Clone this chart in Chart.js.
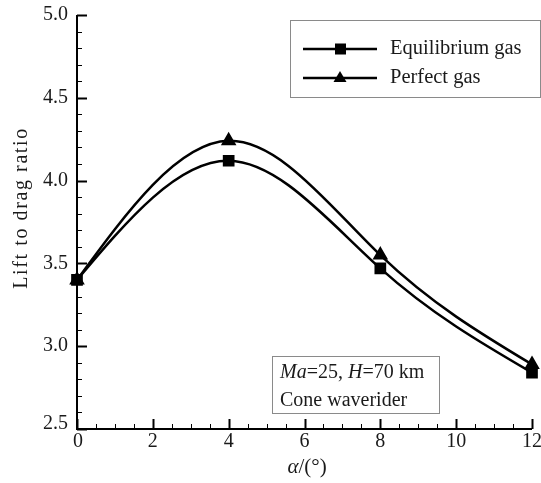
<!DOCTYPE html>
<html><head><meta charset="utf-8">
<script src="https://cdn.jsdelivr.net/npm/chart.js@4/dist/chart.umd.min.js"></script>
<style>html,body{margin:0;padding:0;background:#fff;}#wrap{width:541px;height:483px;position:relative;}</style>
</head><body><div id="wrap"><canvas id="c" width="541" height="483"></canvas></div>
<script>
const alphas = [0, 4, 8, 12];
const equilibriumGas = [3.40, 4.12, 3.47, 2.84];
const perfectGas = [3.40, 4.24, 3.55, 2.89];
const xTicks = [0, 2, 4, 6, 8, 10, 12];
const yTicks = [2.5, 3.0, 3.5, 4.0, 4.5, 5.0];
const seriesNames = ['Equilibrium gas', 'Perfect gas'];

const SERIF = '"Liberation Serif", "DejaVu Serif", serif';

// natural cubic spline through the line's points (pixel space), expressed as bezier control points
const splinePlugin = {
  id: 'naturalSpline',
  beforeDatasetDraw(chart, args) {
    const meta = args.meta;
    const line = meta.dataset;
    if (!line) return;
    line.updateControlPoints(chart.chartArea, 'x');
    const pts = meta.data;
    const n = pts.length;
    if (n < 3) return;
    const h = [], M = new Array(n).fill(0);
    for (let i = 0; i < n - 1; i++) h.push(pts[i + 1].x - pts[i].x);
    // tridiagonal solve for interior second derivatives
    const a = [], b = [], c = [], d = [];
    for (let i = 1; i < n - 1; i++) {
      a.push(h[i - 1]); b.push(2 * (h[i - 1] + h[i])); c.push(h[i]);
      d.push(6 * ((pts[i + 1].y - pts[i].y) / h[i] - (pts[i].y - pts[i - 1].y) / h[i - 1]));
    }
    const m = b.length;
    for (let i = 1; i < m; i++) {
      const w = a[i] / b[i - 1];
      b[i] -= w * c[i - 1]; d[i] -= w * d[i - 1];
    }
    const sol = new Array(m);
    sol[m - 1] = d[m - 1] / b[m - 1];
    for (let i = m - 2; i >= 0; i--) sol[i] = (d[i] - c[i] * sol[i + 1]) / b[i];
    for (let i = 0; i < m; i++) M[i + 1] = sol[i];
    const D = [];
    for (let i = 0; i < n - 1; i++) D.push((pts[i + 1].y - pts[i].y) / h[i] - h[i] * (2 * M[i] + M[i + 1]) / 6);
    D.push((pts[n - 1].y - pts[n - 2].y) / h[n - 2] + h[n - 2] * (M[n - 2] + 2 * M[n - 1]) / 6);
    for (let i = 0; i < n; i++) {
      const p = pts[i];
      const hb = i > 0 ? h[i - 1] : 0, ha = i < n - 1 ? h[i] : 0;
      p.cp1x = p.x - hb / 3; p.cp1y = p.y - D[i] * hb / 3;
      p.cp2x = p.x + ha / 3; p.cp2y = p.y + D[i] * ha / 3;
    }
  }
};

const axesPlugin = {
  id: 'axesPlugin',
  afterDraw(chart) {
    const ctx = chart.ctx;
    const xs = chart.scales.x, ys = chart.scales.y;
    const a = chart.chartArea;
    ctx.save();
    ctx.strokeStyle = '#000';
    ctx.lineWidth = 2;
    ctx.beginPath();
    ctx.moveTo(a.left, a.top); ctx.lineTo(a.left, a.bottom); ctx.lineTo(a.right, a.bottom);
    ctx.stroke();
    for (let k = 0; k <= 25; k++) {
      const v = 2.5 + k * 0.1;
      const y = Math.round(ys.getPixelForValue(v)) + 0.5;
      const major = k % 5 === 0;
      ctx.lineWidth = major ? 2 : 1;
      ctx.beginPath(); ctx.moveTo(a.left, y); ctx.lineTo(a.left + (major ? 10 : 5), y); ctx.stroke();
    }
    for (let k = 0; k <= 24; k++) {
      const v = k * 0.5;
      const x = Math.round(xs.getPixelForValue(v)) + 0.5;
      const major = k % 4 === 0;
      ctx.lineWidth = major ? 2 : 1;
      ctx.beginPath(); ctx.moveTo(x, a.bottom); ctx.lineTo(x, a.bottom - (major ? 10 : 5)); ctx.stroke();
    }
    // tick labels
    ctx.fillStyle = '#1a1a1a';
    ctx.font = '20px ' + SERIF;
    ctx.textAlign = 'right'; ctx.textBaseline = 'middle';
    yTicks.forEach(v => {
      ctx.fillText(v.toFixed(1), a.left - 9, ys.getPixelForValue(v) + (v === 2.5 ? -5 : 0));
    });
    ctx.textAlign = 'center'; ctx.textBaseline = 'middle';
    xTicks.forEach(v => {
      ctx.fillText(String(v), xs.getPixelForValue(v) + (v === 0 ? 1 : 0), a.bottom + 13);
    });
    // axis titles
    const t1 = 'α', t2 = '/(°)';
    ctx.textAlign = 'left'; ctx.textBaseline = 'middle';
    ctx.font = 'italic 21px ' + SERIF;
    const w1 = ctx.measureText(t1).width;
    ctx.font = '21px ' + SERIF;
    const w2 = ctx.measureText(t2).width;
    const sx = 307 - (w1 + w2) / 2;
    ctx.font = 'italic 21px ' + SERIF; ctx.fillText(t1, sx, 467);
    ctx.font = '21px ' + SERIF; ctx.fillText(t2, sx + w1, 467);

    ctx.save();
    ctx.translate(22, 208);
    ctx.rotate(-Math.PI / 2);
    ctx.textAlign = 'center'; ctx.textBaseline = 'middle';
    ctx.font = '20px ' + SERIF;
    const label = 'Lift to drag ratio';
    const natural = ctx.measureText(label).width;
    const target = 160;
    if ('letterSpacing' in ctx) {
      ctx.letterSpacing = ((target - natural) / (label.length - 1)).toFixed(2) + 'px';
    }
    ctx.fillText(label, 0, 0);
    ctx.restore();

    // legend box
    ctx.fillStyle = '#fff';
    ctx.strokeStyle = '#8a8a8a'; ctx.lineWidth = 1;
    ctx.fillRect(290, 20, 251, 78);
    ctx.strokeRect(290.5, 20.5, 250, 77);
    const rows = [{y: 49, style: 'rect'}, {y: 78, style: 'tri'}];
    rows.forEach((r, i) => {
      ctx.strokeStyle = '#000'; ctx.lineWidth = 2.5;
      ctx.beginPath(); ctx.moveTo(303, r.y); ctx.lineTo(377, r.y); ctx.stroke();
      ctx.fillStyle = '#000';
      if (r.style === 'rect') ctx.fillRect(335, r.y - 5.5, 11, 11);
      else { ctx.beginPath(); ctx.moveTo(340, r.y - 7); ctx.lineTo(346.5, r.y + 4); ctx.lineTo(333.5, r.y + 4); ctx.closePath(); ctx.fill(); }
      ctx.fillStyle = '#1a1a1a';
      ctx.font = '20.5px ' + SERIF; ctx.textAlign = 'left'; ctx.textBaseline = 'middle';
      ctx.fillText(seriesNames[i], 390, r.y);
    });

    // annotation box
    ctx.fillStyle = '#fff';
    ctx.fillRect(272, 356, 168, 58);
    ctx.strokeStyle = '#8a8a8a'; ctx.lineWidth = 1;
    ctx.strokeRect(272.5, 356.5, 167, 57);
    ctx.fillStyle = '#1a1a1a'; ctx.textAlign = 'left'; ctx.textBaseline = 'middle';
    const parts = [['Ma', true], ['=25, ', false], ['H', true], ['=70 km', false]];
    let px = 280;
    parts.forEach(p => {
      ctx.font = (p[1] ? 'italic ' : '') + '20px ' + SERIF;
      ctx.fillText(p[0], px, 373);
      px += ctx.measureText(p[0]).width;
    });
    ctx.font = '20px ' + SERIF;
    ctx.fillText('Cone waverider', 280, 401);
    ctx.restore();
  }
};

const mk = arr => alphas.map((x, i) => ({x: x, y: arr[i]}));

new Chart(document.getElementById('c'), {
  type: 'line',
  data: {
    datasets: [
      { label: seriesNames[0], data: mk(equilibriumGas), borderColor: '#000', backgroundColor: '#000', borderWidth: 2.5,
        pointStyle: 'rect', pointRadius: 6.5, pointHoverRadius: 6.5, tension: 0.4, fill: false },
      { label: seriesNames[1], data: mk(perfectGas), borderColor: '#000', backgroundColor: '#000', borderWidth: 2.5,
        pointStyle: 'triangle', pointRadius: 6.5, pointHoverRadius: 6.5, tension: 0.4, fill: false }
    ]
  },
  options: {
    responsive: false,
    animation: false,
    clip: false,
    layout: { padding: { left: 0, right: 9, top: 15, bottom: 0 } },
    plugins: { legend: { display: false }, tooltip: { enabled: false } },
    scales: {
      x: { type: 'linear', min: 0, max: 12, grid: { display: false }, border: { display: false },
           ticks: { display: false }, afterFit(s) { s.height = 54; } },
      y: { type: 'linear', min: 2.5, max: 5.0, grid: { display: false }, border: { display: false },
           ticks: { display: false }, afterFit(s) { s.width = 77; } }
    }
  },
  plugins: [splinePlugin, axesPlugin]
});
</script>
</body></html>
